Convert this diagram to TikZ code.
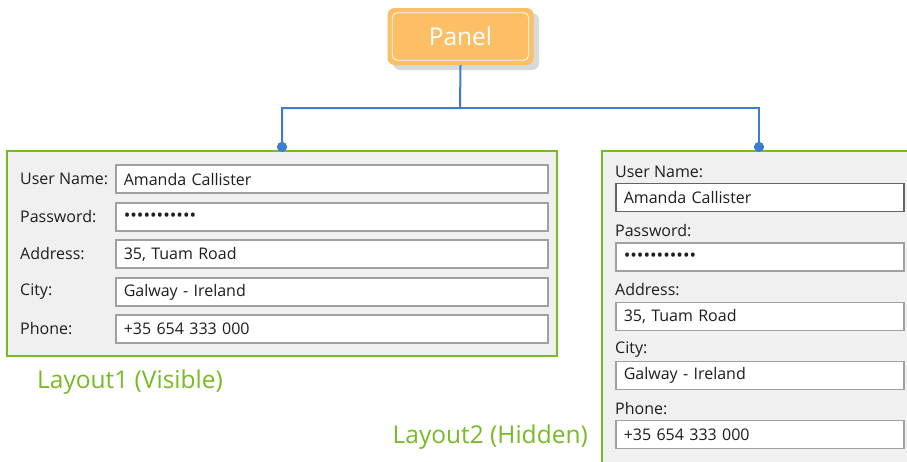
\documentclass[tikz,border=0pt]{standalone}
\usepackage{fontspec}
\setmainfont{Open Sans}
\definecolor{porange}{HTML}{FDBF66}
\definecolor{pshadow}{HTML}{D9D9D9}
\definecolor{conblue}{HTML}{3E7CD0}
\definecolor{lgreen}{HTML}{77BB24}
\definecolor{formbg}{HTML}{F0F0F0}
\definecolor{boxgray}{HTML}{A0A0A0}
\definecolor{boxdark}{HTML}{646464}
\definecolor{ftext}{HTML}{1E1E1E}
\tikzset{
  formfont/.style={font=\fontsize{16}{19}\selectfont, text=ftext},
  tbox/.style={draw=boxgray, line width=1.6pt, fill=white, anchor=west,
    minimum height=28pt, text width=#1, align=left, inner xsep=8pt, inner ysep=0pt,
    formfont},
  flabel/.style={anchor=west, inner sep=0pt, formfont},
  layoutlbl/.style={text=lgreen, font=\fontsize{24.5}{29}\selectfont, inner sep=0pt},
  conn/.style={draw=conblue, line width=2pt},
  cdot/.style={circle, fill=conblue, minimum size=10pt, inner sep=0pt},
  formpanel/.style={draw=lgreen, line width=2pt, fill=formbg},
}
\newcommand{\pwdots}{{\fontsize{17.5}{19}\selectfont •••••••••••}}
\begin{document}
\begin{tikzpicture}[x=1pt,y=-1pt]
\useasboundingbox (0,0) rectangle (907,461);
\clip (0,0) rectangle (907,461);
% Panel
\fill[pshadow, rounded corners=7pt] (393,13) rectangle (539,70);
\node[fill=porange, rounded corners=7pt, minimum width=146pt, minimum height=57pt,
  inner sep=0pt, text=white, font=\fontsize{24.5}{28}\selectfont] (panel) at (460.5,36.5) {Panel};
\draw[white, line width=0.8pt, rounded corners=5pt]
  ([shift={(5,5)}]panel.north west) rectangle ([shift={(-5,-5)}]panel.south east);
% connectors
\coordinate (j) at (460,108);
\node[cdot] (d1) at (282,147) {};
\node[cdot] (d2) at (759,147) {};
\draw[conn] (panel.south) -- (j) -| (d1.center);
\draw[conn] (j) -| (d2.center);
% Left layout
\draw[formpanel] (7,151) rectangle (557,356);
\node[cdot] at (282,147) {};
\node[flabel] (l1) at (20,179) {User Name:};
\node[flabel] (l2) at (20,217) {Password:};
\node[flabel] (l3) at (20,254) {Address:};
\node[flabel] (l4) at (20,292) {City:};
\node[flabel] (l5) at (20,329) {Phone:};
\node[tbox=416pt] (b1) at (115,179) {Amanda Callister};
\node[tbox=416pt] (b2) at (115,217) {\pwdots};
\node[tbox=416pt] (b3) at (115,254) {35, Tuam Road};
\node[tbox=416pt] (b4) at (115,292) {Galway - Ireland};
\node[tbox=416pt] (b5) at (115,329) {+35 654 333 000};
\node[layoutlbl, anchor=west] (lay1) at (37,382) {Layout1 (Visible)};
% Right layout
\draw[formpanel] (602,151) rectangle (930,480);
\node[cdot] at (759,147) {};
\node[flabel] (r1) at (615,172) {User Name:};
\node[flabel] (r2) at (615,231) {Password:};
\node[flabel] (r3) at (615,290) {Address:};
\node[flabel] (r4) at (615,350) {City:};
\node[flabel] (r5) at (615,409) {Phone:};
\node[tbox=272pt, draw=boxdark] (c1) at (615,197.5) {Amanda Callister};
\node[tbox=272pt] (c2) at (615,257) {\pwdots};
\node[tbox=272pt] (c3) at (615,316.5) {35, Tuam Road};
\node[tbox=272pt] (c4) at (615,375.5) {Galway - Ireland};
\node[tbox=272pt] (c5) at (615,434.5) {+35 654 333 000};
\node[layoutlbl, anchor=east] (lay2) at (588,437) {Layout2 (Hidden)};
\end{tikzpicture}
\end{document}
